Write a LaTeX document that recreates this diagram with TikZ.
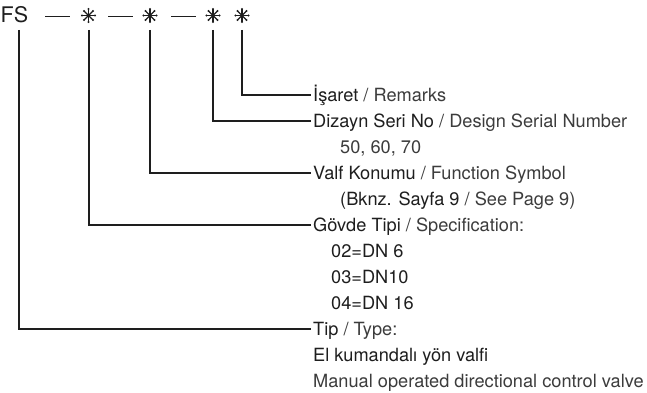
\documentclass[tikz,border=0pt]{standalone}
\usepackage{fontspec}
\setmainfont{TeX Gyre Heros}
\definecolor{ink}{HTML}{1E1E1E}
\definecolor{engl}{HTML}{3C3C3C}
\begin{document}
\begin{tikzpicture}[x=1pt,y=-1pt,
  conn/.style={draw=ink,line width=1.3pt},
  lbl/.style={anchor=west,inner sep=0pt,text height=13pt,text depth=0pt,text=ink,font=\fontsize{18.2}{20}\selectfont},
  sub/.style={lbl},
  starnode/.style={circle,inner sep=0pt,minimum size=18pt,
    path picture={
      \foreach \a in {0,45,...,315}{
        \draw[ink,line width=1.1pt] (path picture bounding box.center) -- ++(\a:6.3pt);
        \fill[ink] ([shift={(\a:6.5pt)}]path picture bounding box.center) circle (1.05pt);
      }}},
  code/.style={anchor=base west,inner sep=0pt,text=ink,font=\fontsize{21.5}{23}\selectfont}]
\useasboundingbox[fill=white] (0,0) rectangle (647,393);
% header
\node[code] (fs) at (0.5,22.7) {FS};
\node[starnode] (s1) at (88.5,15.5) {};
\node[starnode] (s2) at (150,15.5) {};
\node[starnode] (s3) at (213,15.5) {};
\node[starnode] (s4) at (242,15.5) {};
\coordinate (d1a) at (45,16.5); \coordinate (d1b) at (70,16.5);
\coordinate (d2a) at (108,16.5); \coordinate (d2b) at (133,16.5);
\coordinate (d3a) at (171,16.5); \coordinate (d3b) at (196,16.5);
\draw[conn,line width=1.2pt] (d1a) -- (d1b);
\draw[conn,line width=1.2pt] (d2a) -- (d2b);
\draw[conn,line width=1.2pt] (d3a) -- (d3b);
\coordinate (t0) at (19,30);
\coordinate (t1) at (89,30);
\coordinate (t2) at (150,30);
\coordinate (t3) at (213,30);
\coordinate (t4) at (242,30);
% labels
\node[lbl] (l4) at (313,95) {İşaret \textcolor{engl}{/ Remarks}};
\node[lbl] (l3) at (313,121) {Dizayn Seri No \textcolor{engl}{/ Design Serial Number}};
\node[sub] (l3a) at (340,147) {\textcolor{engl}{50, 60, 70}};
\node[lbl] (l2) at (313,173) {Valf Konumu \textcolor{engl}{/ Function Symbol}};
\node[sub] (l2a) at (340,199) {(Bknz. Sayfa 9 \textcolor{engl}{/ See Page 9)}};
\node[lbl] (l1) at (313,225) {Gövde Tipi \textcolor{engl}{/ Specification:}};
\node[sub] (l1a) at (331,251) {02=DN 6};
\node[sub] (l1b) at (331,277) {03=DN10};
\node[sub] (l1c) at (331,303) {04=DN 16};
\node[lbl] (l0) at (313,329) {Tip \textcolor{engl}{/ Type:}};
\node[sub] (l0a) at (313,355) {El kumandalı yön valfi};
\node[sub] (l0b) at (313,381) {\textcolor{engl}{Manual operated directional control valve}};
% connectors
\draw[conn] (t4) |- ([xshift=-2pt]l4.west);
\draw[conn] (t3) |- ([xshift=-2pt]l3.west);
\draw[conn] (t2) |- ([xshift=-2pt]l2.west);
\draw[conn] (t1) |- ([xshift=-2pt]l1.west);
\draw[conn] (t0) |- ([xshift=-2pt]l0.west);
\end{tikzpicture}
\end{document}
